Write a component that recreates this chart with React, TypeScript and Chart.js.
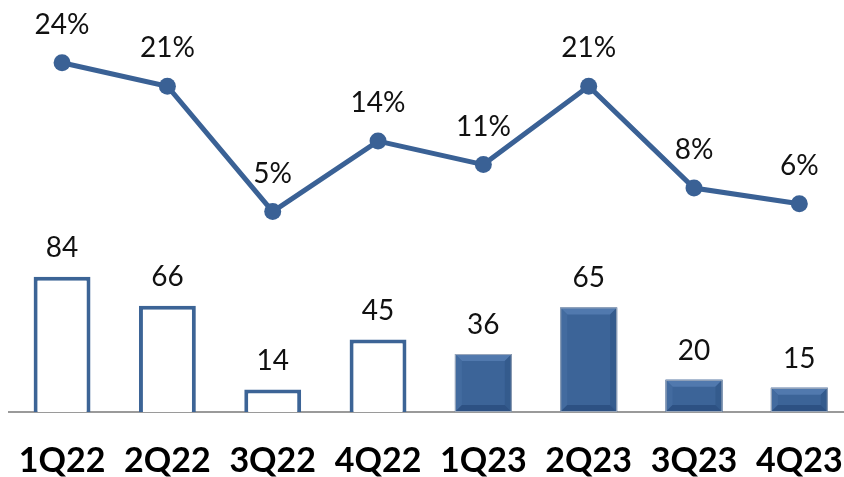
import React, { useEffect, useRef } from "react";
import { Chart, registerables } from "chart.js";

Chart.register(...registerables);

const categories = ["1Q22", "2Q22", "3Q22", "4Q22", "1Q23", "2Q23", "3Q23", "4Q23"];
const barValues = [84, 66, 14, 45, 36, 65, 20, 15];
const pctValues = [24, 21, 5, 14, 11, 21, 8, 6];
const hollowFlags = [true, true, true, true, false, false, false, false];

const BLUE = "#3C6498";
const FONT = "Lato, 'Open Sans', sans-serif";

const bevelPlugin = {
  id: "bevel",
  afterDatasetDraw(chart: any, args: any) {
    if (args.index !== 0) return;
    const ctx = chart.ctx;
    const meta = chart.getDatasetMeta(0);
    meta.data.forEach((el: any, i: number) => {
      if (hollowFlags[i]) return;
      const { x, y, base, width } = el.getProps(["x", "y", "base", "width"], true);
      const l = x - width / 2;
      const r = x + width / 2;
      const t = y;
      const b = base;
      const bv = Math.min(7, (b - t) / 3);
      ctx.save();
      ctx.fillStyle = "#5179AE";
      ctx.beginPath();
      ctx.moveTo(l, t); ctx.lineTo(r, t); ctx.lineTo(r - bv, t + bv); ctx.lineTo(l + bv, t + bv); ctx.closePath(); ctx.fill();
      ctx.fillStyle = "#436B9F";
      ctx.beginPath();
      ctx.moveTo(l, t); ctx.lineTo(l + bv, t + bv); ctx.lineTo(l + bv, b - bv); ctx.lineTo(l, b); ctx.closePath(); ctx.fill();
      ctx.fillStyle = "#345B8D";
      ctx.beginPath();
      ctx.moveTo(r, t); ctx.lineTo(r - bv, t + bv); ctx.lineTo(r - bv, b - bv); ctx.lineTo(r, b); ctx.closePath(); ctx.fill();
      ctx.fillStyle = "#2D5183";
      ctx.beginPath();
      ctx.moveTo(l, b); ctx.lineTo(r, b); ctx.lineTo(r - bv, b - bv); ctx.lineTo(l + bv, b - bv); ctx.closePath(); ctx.fill();
      ctx.strokeStyle = "rgba(165,175,190,0.9)";
      ctx.lineWidth = 1;
      ctx.strokeRect(l + 0.5, t + 0.5, width - 1, b - t - 1);
      ctx.restore();
    });
  },
};

const labelPlugin = {
  id: "valueLabels",
  afterDatasetsDraw(chart: any) {
    const ctx = chart.ctx;
    ctx.save();
    ctx.font = `28px ${FONT}`;
    ctx.fillStyle = "#111111";
    ctx.textAlign = "center";
    ctx.textBaseline = "middle";
    const barMeta = chart.getDatasetMeta(0);
    barMeta.data.forEach((el: any, i: number) => {
      ctx.fillText(String(barValues[i]), el.x, el.y - 29);
    });
    const lineMeta = chart.getDatasetMeta(1);
    lineMeta.data.forEach((el: any, i: number) => {
      ctx.fillText(pctValues[i] + "%", el.x, el.y - 38);
    });
    ctx.restore();
  },
};

export default function App() {
  const ref = useRef<HTMLCanvasElement | null>(null);
  useEffect(() => {
    if (!ref.current) return;
    const chart = new Chart(ref.current, {
      type: "bar",
      data: {
        labels: categories,
        datasets: [
          {
            type: "bar",
            data: barValues,
            yAxisID: "y",
            order: 1,
            backgroundColor: hollowFlags.map((h) => (h ? "#ffffff" : BLUE)),
            borderColor: hollowFlags.map((h) => (h ? "#3C6496" : BLUE)),
            borderWidth: hollowFlags.map((h) => (h ? 4 : 0)),
            categoryPercentage: 1,
            barPercentage: 0.54,
          } as any,
          {
            type: "line",
            data: pctValues,
            yAxisID: "y1",
            order: 0,
            borderColor: "#3A6195",
            backgroundColor: "#3A6195",
            borderWidth: 5,
            pointRadius: 8.5,
            pointBorderWidth: 0,
            pointBackgroundColor: "#3A6195",
            tension: 0,
            clip: false,
          } as any,
        ],
      },
      options: {
        animation: false,
        responsive: false,
        maintainAspectRatio: false,
        layout: { autoPadding: false, padding: { left: 9.4, right: 0, top: 0, bottom: 0 } },
        plugins: { legend: { display: false }, tooltip: { enabled: false } },
        scales: {
          x: {
            z: 1,
            grid: { display: false, drawTicks: false },
            border: { display: true, color: "#9A9A9A", width: 2 },
            ticks: {
              color: "#000000",
              font: { family: FONT, size: 34, weight: "bold" },
              padding: 29,
              maxRotation: 0,
              autoSkip: false,
            },
            afterFit: (scale: any) => {
              scale.height = 65;
              scale.paddingLeft = 0;
              scale.paddingRight = 0;
            },
          },
          y: { display: false, min: 0, max: 256 },
          y1: { display: false, min: -20.57, max: 32 },
        },
      },
      plugins: [bevelPlugin, labelPlugin],
    } as any);
    return () => chart.destroy();
  }, []);
  return (
    <div style={{ position: "fixed", left: 0, top: 0, width: 844, height: 477, overflow: "hidden", background: "#fff" }}>
      <canvas ref={ref} width={852} height={477} style={{ width: 852, height: 477, display: "block" }} />
    </div>
  );
}
